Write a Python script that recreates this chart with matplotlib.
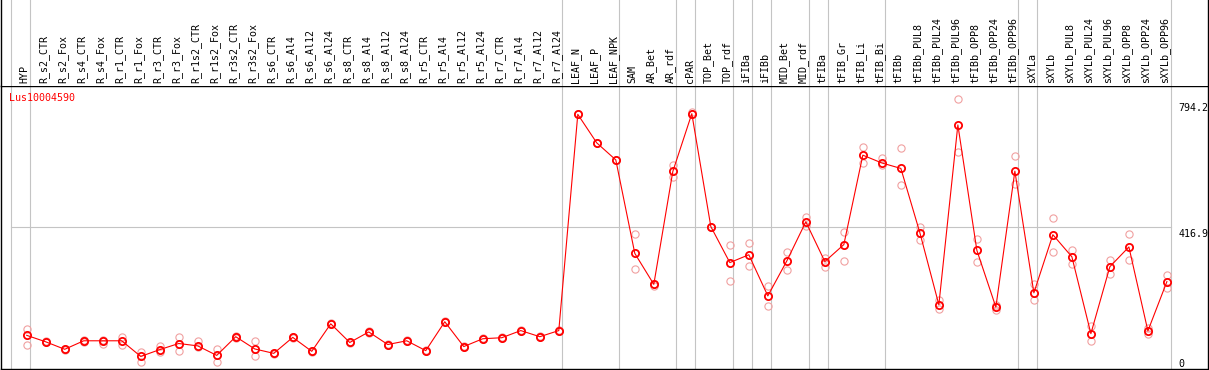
import matplotlib
matplotlib.use("Agg")
import matplotlib.pyplot as plt

# sample names, in plot order
samples = [
    "HYP", "R_s2_CTR", "R_s2_Fox", "R_s4_CTR", "R_s4_Fox", "R_r1_CTR", "R_r1_Fox",
    "R_r3_CTR", "R_r3_Fox", "R_r1s2_CTR", "R_r1s2_Fox", "R_r3s2_CTR", "R_r3s2_Fox",
    "R_s6_CTR", "R_s6_Al4", "R_s6_Al12", "R_s6_Al24", "R_s8_CTR", "R_s8_Al4",
    "R_s8_Al12", "R_s8_Al24", "R_r5_CTR", "R_r5_Al4", "R_r5_Al12", "R_r5_Al24",
    "R_r7_CTR", "R_r7_Al4", "R_r7_Al12", "R_r7_Al24",
    "LEAF_N", "LEAF_P", "LEAF_NPK", "SAM", "AR_Bet", "AR_rdf", "cPAR", "TOP_Bet",
    "TOP_rdf", "iFIBa", "iFIBb", "MID_Bet", "MID_rdf", "tFIBa", "tFIB_Gr", "tFIB_Li",
    "tFIB_Bi", "tFIBb", "tFIBb_PUL8", "tFIBb_PUL24", "tFIBb_PUL96", "tFIBb_OPP8",
    "tFIBb_OPP24", "tFIBb_OPP96", "sXYLa", "sXYLb", "sXYLb_PUL8", "sXYLb_PUL24",
    "sXYLb_PUL96", "sXYLb_OPP8", "sXYLb_OPP24", "sXYLb_OPP96",
]

# mean expression per sample
means = [
    99, 80, 58, 83, 83, 83, 37, 57, 75, 68, 40, 95, 59, 46, 93, 52, 133, 78, 109,
    72, 83, 54, 139, 66, 89, 92, 113, 95, 113,
    749, 665, 615, 340, 249, 581, 751, 419, 313, 336, 215, 318, 433, 316, 366, 629,
    606, 590, 401, 189, 718, 349, 182, 582, 224, 395, 330, 104, 301, 359, 112, 257,
]

# two visible replicates per sample
rep_a = [
    117, 82, 60, 85, 84, 95, 51, 67, 93, 83, 59, 97, 81, 47, 95, 54, 135, 80, 111,
    74, 85, 56, 141, 68, 91, 94, 115, 97, 115,
    749, 665, 615, 396, 249, 599, 756, 419, 366, 371, 245, 343, 446, 327, 404, 654,
    620, 649, 418, 204, 794, 381, 187, 627, 249, 445, 351, 126, 322, 396, 121, 277,
]
rep_b = [
    72, 78, 56, 80, 74, 71, 22, 50, 54, 65, 22, 92, 38, 44, 90, 50, 131, 76, 107,
    70, 81, 52, 137, 64, 87, 90, 111, 93, 111,
    749, 665, 615, 295, 244, 565, 751, 419, 259, 302, 186, 292, 421, 299, 317, 606,
    599, 540, 380, 176, 639, 315, 175, 543, 204, 345, 309, 82, 280, 321, 102, 239,
]

gene = "Lus10004590"
y_max = 833.9
y_labels = ["794.2", "416.9", "0"]
group_ends = [-1, 0, 28, 31, 34, 35, 37, 38, 39, 41, 42, 45, 52, 53, 60]

W, H = 1209, 370
fig = plt.figure(figsize=(W / 100, H / 100), dpi=100)
mono = "DejaVu Sans Mono"
fs = 7.2

x = list(range(len(samples)))
xlim = (-1.3526, 62.163)

# plot panel
ax = fig.add_axes([1 / W, 1 / H, 1207 / W, 283.5 / H])
ax.set_xlim(*xlim)
ax.set_ylim(0, y_max)
ax.set_xticks([])
ax.set_yticks([])
for s in ax.spines.values():
    s.set_color("black")
    s.set_linewidth(1.0)

grid_c = "#c4c4c4"
for k in group_ends:
    ax.axvline(k + 0.19, color=grid_c, lw=0.8, zorder=1)
ax.plot([group_ends[0] + 0.19, group_ends[-1] + 0.19], [y_max / 2, y_max / 2],
        color=grid_c, lw=0.8, zorder=1)

ax.plot(x, rep_a, ls="none", marker="o", ms=5.2, mfc="none", mec="#f0a0a0",
        mew=0.8, zorder=2)
ax.plot(x, rep_b, ls="none", marker="o", ms=5.2, mfc="none", mec="#f0a0a0",
        mew=0.8, zorder=2)
ax.plot(x, means, color="red", lw=0.8, marker="o", ms=5.2, mfc="none",
        mec="red", mew=1.3, zorder=3)

ax.text(0.0069, 0.9735, gene, transform=ax.transAxes, color="red",
        family=mono, fontsize=fs, ha="left", va="top")

# value labels in the right column
lab_y = [0.939, 0.4928, 0.0342]
for t, yy in zip(y_labels, lab_y):
    ax.text(60.6, yy, t, transform=ax.get_xaxis_transform(), family=mono,
            fontsize=fs, ha="left", va="top", color="black")

# sample name panel
lx = fig.add_axes([1 / W, 284.5 / H, 1207 / W, 85.5 / H])
lx.set_xlim(*xlim)
lx.set_ylim(0, 1)
lx.set_xticks([])
lx.set_yticks([])
for side in ["top", "bottom"]:
    lx.spines[side].set_visible(False)
for side in ["left", "right"]:
    lx.spines[side].set_color("black")
    lx.spines[side].set_linewidth(1.0)
for k in group_ends:
    lx.axvline(k + 0.19, color=grid_c, lw=0.8)
for i, name in enumerate(samples):
    lx.text(i - 0.12, 0.03, name, rotation=90, family=mono, fontsize=fs,
            ha="center", va="bottom", color="black")

fig.savefig("out.png", dpi=100)
